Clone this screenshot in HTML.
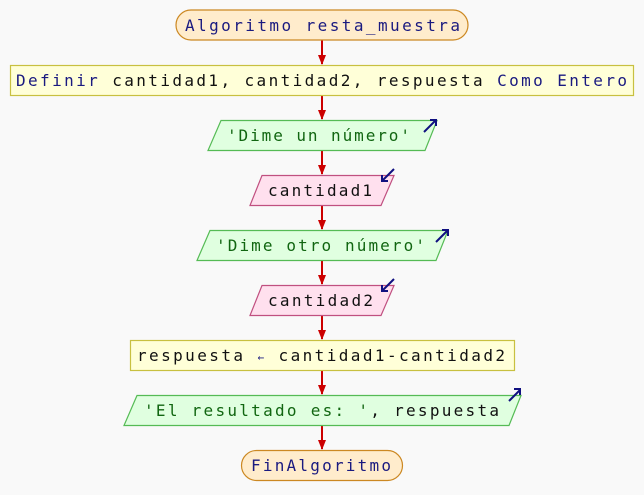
<!DOCTYPE html>
<html><head><meta charset="utf-8"><style>
html,body{margin:0;padding:0;background:#f9f9f9;}
svg{display:block;}
text{font-family:"DejaVu Sans Mono","Liberation Mono",monospace;font-size:16px;}
</style></head><body>
<svg width="644" height="495" viewBox="0 0 644 495" xmlns="http://www.w3.org/2000/svg">
<defs>
<marker id="ar" markerWidth="10" markerHeight="8" refX="9" refY="4" orient="auto" markerUnits="userSpaceOnUse">
<path d="M0,0 L10,4 L0,8 Z" fill="#cc0000"/>
</marker>
</defs>
<g stroke="#cc0000" stroke-width="2" marker-end="url(#ar)">
<line x1="322" y1="40" x2="322" y2="64"/>
<line x1="322" y1="95" x2="322" y2="119"/>
<line x1="322" y1="150" x2="322" y2="174"/>
<line x1="322" y1="205" x2="322" y2="229"/>
<line x1="322" y1="260" x2="322" y2="284"/>
<line x1="322" y1="315" x2="322" y2="339"/>
<line x1="322" y1="370" x2="322" y2="394"/>
<line x1="322" y1="425" x2="322" y2="449"/>
</g>
<rect x="176" y="10" width="292" height="30" rx="15" fill="#ffeccc" stroke="#cc8822" stroke-width="1.2"/>
<text x="185" y="31" textLength="275" lengthAdjust="spacing" fill="#1a1a80">Algoritmo resta_muestra</text>
<rect x="10.5" y="65.5" width="623" height="30" fill="#ffffd8" stroke="#c8c040" stroke-width="1.2"/>
<text x="16" y="86" textLength="611" lengthAdjust="spacing" fill="#111"><tspan fill="#1a1a80">Definir</tspan> cantidad1, cantidad2, respuesta <tspan fill="#1a1a80">Como Entero</tspan></text>
<polygon points="221,120.5 437,120.5 425,150.5 208,150.5" fill="#e0ffe0" stroke="#55bb55" stroke-width="1.2"/>
<text x="227" y="141" textLength="183" lengthAdjust="spacing" fill="#116611">'Dime un número'</text>
<path d="M424,132 L436,120 M430,120 L436,120 L436,126" stroke="#101080" stroke-width="2" fill="none"/>
<polygon points="262,175.5 394,175.5 381,205.5 250,205.5" fill="#ffe0ee" stroke="#c05080" stroke-width="1.2"/>
<text x="268" y="196" textLength="104" lengthAdjust="spacing" fill="#111">cantidad1</text>
<path d="M394,169 L382,181 M382,175 L382,181 L388,181" stroke="#101080" stroke-width="2" fill="none"/>
<polygon points="210,230.5 448,230.5 436,260.5 197,260.5" fill="#e0ffe0" stroke="#55bb55" stroke-width="1.2"/>
<text x="216" y="251" textLength="209" lengthAdjust="spacing" fill="#116611">'Dime otro número'</text>
<path d="M436,242 L448,230 M442,230 L448,230 L448,236" stroke="#101080" stroke-width="2" fill="none"/>
<polygon points="262,285.5 394,285.5 381,315.5 250,315.5" fill="#ffe0ee" stroke="#c05080" stroke-width="1.2"/>
<text x="268" y="306" textLength="105" lengthAdjust="spacing" fill="#111">cantidad2</text>
<path d="M394,279 L382,291 M382,285 L382,291 L388,291" stroke="#101080" stroke-width="2" fill="none"/>
<rect x="130.5" y="340.5" width="384" height="30" fill="#ffffd8" stroke="#c8c040" stroke-width="1.2"/>
<text x="137" y="361" textLength="368" lengthAdjust="spacing" fill="#111">respuesta <tspan fill="#1a1a80" font-size="11">←</tspan> cantidad1-cantidad2</text>
<polygon points="137,395.5 521,395.5 509,425.5 124,425.5" fill="#e0ffe0" stroke="#55bb55" stroke-width="1.2"/>
<text x="144" y="416" textLength="355" lengthAdjust="spacing" fill="#116611">'El resultado es: '<tspan fill="#111">, respuesta</tspan></text>
<path d="M509,401 L520,390 M514,389 L520,389 L520,395" stroke="#101080" stroke-width="2" fill="none"/>
<rect x="241.5" y="450.5" width="161" height="30" rx="15" fill="#ffeccc" stroke="#cc8822" stroke-width="1.2"/>
<text x="251" y="471" textLength="140" lengthAdjust="spacing" fill="#1a1a80">FinAlgoritmo</text>
</svg>
</body></html>
